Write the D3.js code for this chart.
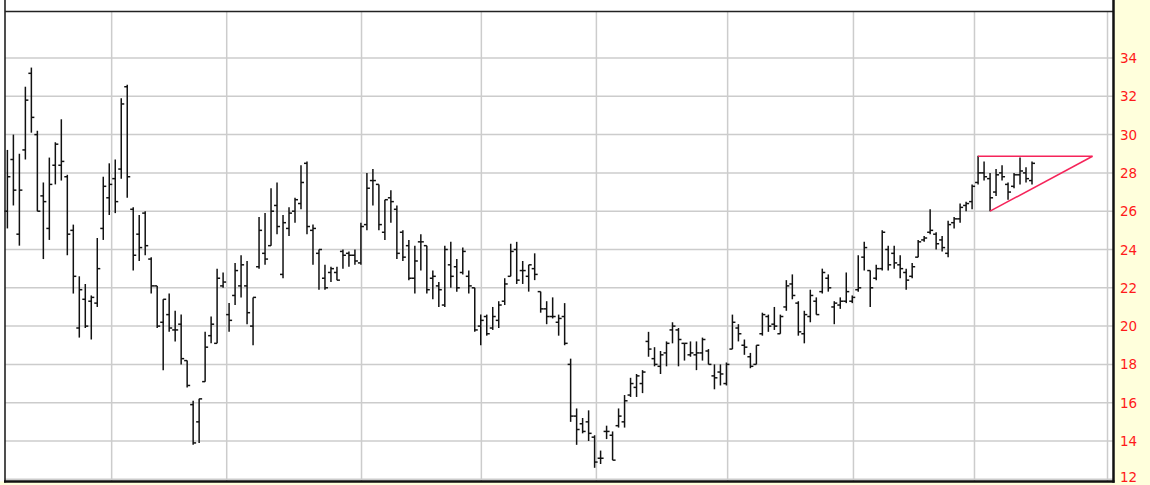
<!DOCTYPE html>
<html>
<head>
<meta charset="utf-8">
<script src="https://cdn.jsdelivr.net/npm/d3@7"></script>
<style>
    html, body { margin: 0; padding: 0; background: #fff; overflow: hidden; }
    #chart { width: 1150px; height: 485px; }
</style>
</head>
<body>
<div id="chart"></div>
<script>
// Données OHLC (une barre par séance)
const highs = [
    29.2, 30.0, 29.0, 32.5, 33.5, 30.2, 27.5, 28.8, 29.6, 30.8,
    27.9, 25.3, 22.6, 22.2, 21.6, 24.6, 27.8, 28.5, 28.7, 31.9,
    32.6, 26.2, 25.8, 26.0, 23.6, 22.1, 21.4, 21.7, 20.8, 20.6,
    18.2, 16.1, 16.2, 19.7, 20.5, 23.0, 22.8, 21.2, 23.3, 23.7,
    23.4, 21.5, 25.7, 25.9, 27.2, 27.5, 25.8, 26.2, 26.7, 28.4,
    28.6, 25.3, 24.0, 23.2, 23.1, 23.1, 24.0, 23.9, 24.0, 25.4,
    28.0, 28.2, 27.4, 26.6, 27.1, 26.3, 25.0, 24.5, 24.2, 24.8,
    24.2, 22.9, 22.3, 24.2, 24.4, 23.5, 24.1, 22.9, 22.0, 20.6,
    20.6, 21.0, 21.3, 22.5, 24.3, 24.4, 23.4, 23.2, 23.8, 21.8,
    21.3, 21.5, 20.6, 21.2, 18.3, 15.7, 15.2, 15.6, 14.3, 13.5,
    14.8, 14.5, 15.7, 16.4, 17.3, 17.5, 17.7, 19.7, 18.9, 18.7,
    19.2, 20.2, 19.9, 19.1, 19.2, 19.2, 19.4, 18.8, 18.0, 18.0,
    18.1, 20.6, 20.1, 19.3, 18.6, 19.0, 20.7, 20.6, 21.0, 20.6,
    22.4, 22.7, 21.3, 20.8, 21.9, 21.5, 23.0, 22.7, 21.3, 21.5,
    22.8, 21.6, 23.7, 24.4, 22.9, 23.2, 25.0, 24.2, 24.2, 23.7,
    23.0, 23.3, 24.5, 24.7, 26.1, 24.9, 24.7, 25.5, 25.7, 26.4,
    26.5, 27.4, 28.9, 28.6, 28.0, 28.2, 28.4, 27.5, 28.0, 28.8, 28.3, 28.6
];
const lows = [
    25.1, 26.3, 24.2, 28.7, 30.1, 26.0, 23.5, 24.5, 27.4, 27.6,
    23.7, 21.7, 19.4, 19.9, 19.3, 21.0, 24.5, 25.8, 25.9, 27.7,
    26.7, 22.9, 23.4, 23.7, 21.7, 19.9, 17.7, 19.7, 19.2, 18.0,
    16.8, 13.8, 13.9, 17.1, 19.1, 19.1, 22.0, 19.7, 21.1, 21.5,
    20.1, 19.0, 23.0, 23.2, 24.2, 24.8, 22.5, 24.7, 25.4, 26.1,
    24.8, 23.2, 21.9, 21.9, 22.3, 22.4, 23.0, 23.1, 23.2, 23.2,
    25.0, 26.3, 25.0, 24.5, 25.4, 23.5, 23.4, 22.4, 21.7, 22.9,
    21.7, 21.4, 21.0, 21.0, 22.0, 21.8, 22.7, 21.7, 19.7, 19.0,
    19.5, 19.8, 19.9, 21.1, 22.6, 22.2, 22.2, 21.8, 22.4, 20.7,
    20.1, 20.4, 19.5, 19.0, 15.0, 13.8, 14.4, 14.0, 12.6, 12.8,
    14.1, 13.0, 14.7, 14.7, 16.3, 16.3, 16.5, 18.4, 17.9, 17.5,
    17.9, 19.1, 17.9, 18.2, 18.4, 17.7, 18.2, 18.0, 16.7, 16.9,
    16.9, 18.8, 19.2, 18.5, 17.8, 18.0, 19.5, 19.7, 19.8, 19.6,
    20.8, 21.4, 19.5, 19.1, 20.2, 20.6, 21.7, 21.8, 20.1, 20.9,
    21.2, 21.2, 21.8, 22.9, 21.0, 22.4, 22.9, 22.9, 23.0, 22.5,
    21.9, 22.5, 23.6, 24.4, 24.8, 24.0, 23.9, 23.6, 25.1, 25.4,
    26.0, 26.1, 27.4, 27.6, 26.0, 26.8, 27.6, 26.6, 27.2, 27.4, 27.5, 27.4
];
const opens = [
    26.0, 28.7, 24.8, 29.2, 33.2, 30.0, 26.8, 25.1, 28.4, 28.4,
    27.8, 25.0, 19.9, 21.4, 21.3, 21.2, 25.1, 26.7, 27.7, 28.2,
    32.5, 26.1, 24.8, 25.9, 23.5, 22.1, 20.2, 20.6, 19.8, 20.1,
    18.2, 15.9, 15.0, 17.1, 19.5, 19.1, 22.1, 20.6, 21.6, 22.1,
    22.1, 20.0, 23.1, 23.8, 24.2, 26.3, 22.7, 25.1, 26.0, 26.4,
    28.5, 25.0, 23.8, 22.5, 22.8, 22.8, 23.9, 23.8, 23.7, 23.3,
    25.3, 27.6, 27.4, 24.9, 26.7, 26.1, 24.9, 24.2, 22.5, 24.4,
    24.2, 22.5, 22.1, 21.1, 23.2, 23.1, 22.8, 22.6, 22.0, 20.0,
    20.5, 19.9, 20.3, 21.3, 22.6, 24.0, 22.9, 22.6, 23.0, 21.8,
    20.9, 20.5, 20.2, 20.5, 18.0, 15.3, 14.9, 15.0, 14.2, 13.1,
    14.5, 14.3, 14.8, 15.0, 16.4, 16.8, 17.0, 19.2, 18.3, 17.9,
    18.6, 19.8, 19.8, 19.1, 18.5, 18.5, 18.6, 18.7, 17.4, 17.6,
    17.0, 18.8, 19.9, 19.0, 18.4, 18.0, 19.6, 20.5, 20.1, 19.6,
    21.0, 22.2, 21.2, 19.6, 20.5, 21.3, 21.8, 22.5, 21.0, 21.1,
    21.3, 21.3, 21.9, 23.6, 22.9, 22.5, 23.0, 24.0, 23.8, 23.2,
    22.8, 22.6, 23.6, 24.5, 24.9, 24.8, 24.5, 23.8, 25.4, 25.6,
    26.3, 26.5, 27.5, 28.0, 27.7, 27.0, 28.0, 27.4, 27.3, 27.9, 28.0, 27.6
];
const closes = [
    27.8, 27.1, 27.1, 31.8, 30.9, 26.0, 26.5, 27.4, 29.5, 28.6,
    24.8, 22.6, 21.9, 20.0, 21.5, 23.0, 27.3, 27.4, 26.5, 31.6,
    27.8, 23.7, 24.1, 24.2, 22.1, 20.0, 21.4, 19.9, 19.8, 18.3,
    16.9, 13.9, 16.2, 18.9, 20.1, 22.5, 22.3, 20.3, 22.9, 23.2,
    20.7, 21.5, 25.0, 23.5, 26.0, 25.2, 25.4, 25.9, 26.6, 27.5,
    25.2, 25.1, 24.0, 22.0, 23.0, 22.4, 23.7, 23.7, 23.4, 25.2,
    27.2, 27.6, 25.3, 26.6, 26.5, 23.8, 23.6, 22.5, 23.4, 24.4,
    21.9, 22.6, 21.9, 24.0, 22.6, 22.0, 23.9, 22.1, 19.8, 20.3,
    19.6, 20.5, 21.1, 22.2, 23.9, 22.4, 22.9, 23.2, 22.7, 20.9,
    20.5, 20.5, 20.4, 19.1, 15.3, 14.6, 14.5, 14.4, 12.9, 13.1,
    14.5, 13.0, 15.3, 16.1, 17.0, 17.4, 17.6, 18.8, 18.0, 18.5,
    19.1, 20.0, 19.3, 19.1, 18.6, 18.6, 19.3, 18.0, 17.3, 17.5,
    18.0, 20.2, 19.6, 18.9, 17.9, 19.0, 20.6, 20.0, 20.0, 20.5,
    22.1, 21.6, 19.7, 20.6, 21.6, 20.6, 22.8, 22.0, 21.2, 21.3,
    21.8, 21.5, 22.0, 24.1, 22.0, 23.0, 24.9, 23.2, 23.3, 23.0,
    22.4, 23.1, 24.4, 24.6, 25.0, 24.3, 24.1, 25.3, 25.6, 26.2,
    26.4, 27.3, 28.0, 27.8, 26.7, 27.9, 27.8, 27.0, 27.9, 28.1, 27.7, 28.5
];

// Graduations de l'axe des prix (à droite)
const priceTicks = [12, 14, 16, 18, 20, 22, 24, 26, 28, 30, 32, 34];

// Début de chaque mois (en index de séance)
const monthLines = [17.4, 36.6, 59.1, 79.1, 98.3, 120.2, 141.2, 161.4, 183.6];

// Triangle ascendant : résistance et support
const resistance = [{ i: 162, v: 28.87 }, { i: 181.1, v: 28.87 }];
const support = [{ i: 164, v: 26.0 }, { i: 181.1, v: 28.87 }];

function drawChart() {
    const width = 1150;
    const height = 485;
    const plot = { left: 5, right: 1113.5, top: 11.5, bottom: 481.5 };

    const bars = highs.map((h, i) => ({
        i: i, high: h, low: lows[i], open: opens[i], close: closes[i]
    }));

    const svg = d3.select("#chart")
        .append("svg")
        .attr("width", width)
        .attr("height", height);

    const x = d3.scaleLinear()
        .domain([-0.4, 184.6])
        .range([plot.left, plot.right]);

    const y = d3.scaleLinear()
        .domain([12, 34])
        .range([479.3, 58]);

    // Fond jaune pâle du panneau d'échelle
    svg.append("rect")
        .attr("x", plot.right).attr("y", 0)
        .attr("width", width - plot.right).attr("height", height)
        .attr("fill", "#ffffdc");
    svg.append("rect")
        .attr("x", 0).attr("y", plot.bottom)
        .attr("width", width).attr("height", height - plot.bottom)
        .attr("fill", "#ffffdc");

    // Quadrillage horizontal
    svg.append("g")
        .selectAll("line")
        .data(priceTicks)
        .enter()
        .append("line")
        .attr("x1", plot.left).attr("x2", plot.right)
        .attr("y1", d => y(d)).attr("y2", d => y(d))
        .attr("stroke", "#cccccc")
        .attr("stroke-width", 1.5);

    // Quadrillage vertical (mois)
    svg.append("g")
        .selectAll("line")
        .data(monthLines)
        .enter()
        .append("line")
        .attr("x1", d => x(d)).attr("x2", d => x(d))
        .attr("y1", plot.top).attr("y2", plot.bottom)
        .attr("stroke", "#cccccc")
        .attr("stroke-width", 1.5);

    // Barres OHLC
    const g = svg.append("g")
        .attr("stroke", "#111")
        .attr("stroke-width", 1.5);

    g.selectAll(".hl")
        .data(bars)
        .enter()
        .append("line")
        .attr("x1", d => x(d.i)).attr("x2", d => x(d.i))
        .attr("y1", d => y(d.high)).attr("y2", d => y(d.low));

    g.selectAll(".open")
        .data(bars)
        .enter()
        .append("line")
        .attr("x1", d => x(d.i) - 3).attr("x2", d => x(d.i))
        .attr("y1", d => y(d.open)).attr("y2", d => y(d.open));

    g.selectAll(".close")
        .data(bars)
        .enter()
        .append("line")
        .attr("x1", d => x(d.i)).attr("x2", d => x(d.i) + 3)
        .attr("y1", d => y(d.close)).attr("y2", d => y(d.close));

    // Triangle en rouge
    const line = d3.line().x(d => x(d.i)).y(d => y(d.v));
    [resistance, support].forEach(pts => {
        svg.append("path")
            .attr("d", line(pts))
            .attr("fill", "none")
            .attr("stroke", "#f5245a")
            .attr("stroke-width", 1.5);
    });

    // Cadre
    svg.append("line")
        .attr("x1", plot.left).attr("x2", plot.right)
        .attr("y1", plot.top).attr("y2", plot.top)
        .attr("stroke", "#222").attr("stroke-width", 1.5);
    svg.append("line")
        .attr("x1", plot.left).attr("x2", plot.left)
        .attr("y1", 0).attr("y2", plot.bottom + 1)
        .attr("stroke", "#222").attr("stroke-width", 1.6);
    svg.append("line")
        .attr("x1", plot.right).attr("x2", plot.right)
        .attr("y1", 0).attr("y2", plot.bottom + 1.2)
        .attr("stroke", "#111").attr("stroke-width", 2.5);
    svg.append("line")
        .attr("x1", plot.left - 1).attr("x2", plot.right + 1)
        .attr("y1", plot.bottom).attr("y2", plot.bottom)
        .attr("stroke", "#111").attr("stroke-width", 2.5);

    // Libellés de l'échelle des prix (le dernier reste dans la fenêtre)
    svg.append("g")
        .selectAll("text")
        .data(priceTicks)
        .enter()
        .append("text")
        .attr("x", 1120)
        .attr("y", d => Math.min(y(d) + 5, height - 3))
        .attr("fill", "#ff1a1a")
        .style("font-family", "'DejaVu Sans', sans-serif")
        .style("font-size", "13.5px")
        .text(d => d);
}

drawChart();
</script>
</body>
</html>
